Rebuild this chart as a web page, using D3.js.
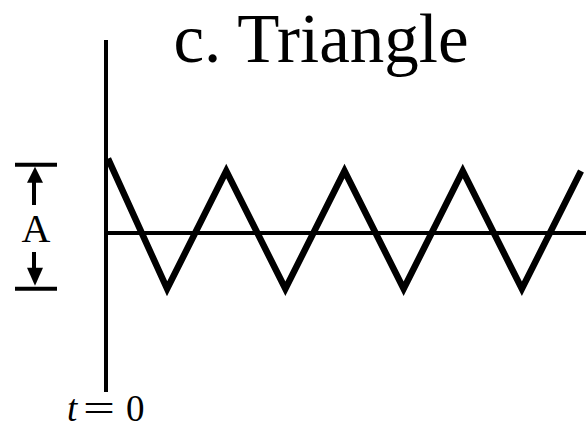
<!DOCTYPE html>
<html>
<head>
<meta charset="utf-8">
<script src="https://cdn.jsdelivr.net/npm/d3@7"></script>
<style>
  html, body { margin: 0; padding: 0; background: #fff; }
  svg { display: block; }
  text { font-family: "Liberation Serif", "Times New Roman", serif; fill: #000; }
</style>
</head>
<body>
<svg id="chart" width="586" height="431"></svg>
<script>
// --- DATA ---
// time in half-periods, value relative to the zero line
const tValues = [0, 1, 2, 3, 4, 5, 6, 7, 8];
const waveValues = [1.2, -0.9, 1, -0.9, 1, -0.9, 1, -0.9, 1];
// amplitude marker levels
const ampLevels = [1.1, -0.9];
const titleText = "c. Triangle";
const ampLabel = "A";

const svg = d3.select("#chart");

// --- SCALES ---
const x = d3.scaleLinear().domain([0, 8]).range([108, 581]);
const y = d3.scaleLinear().domain([-1, 1]).range([295, 171]);

const data = tValues.map((t, i) => ({ t, v: waveValues[i] }));

// title
svg.append("text")
    .attr("x", 321)
    .attr("y", 62)
    .attr("text-anchor", "middle")
    .style("font-size", "69px")
    .text(titleText);

// vertical axis (t = 0)
svg.append("line")
    .attr("x1", x(0) - 2).attr("x2", x(0) - 2)
    .attr("y1", 40).attr("y2", 392)
    .attr("stroke", "#000").attr("stroke-width", 4);

// zero line
svg.append("line")
    .attr("x1", x(0) - 2).attr("x2", 586)
    .attr("y1", y(0)).attr("y2", y(0))
    .attr("stroke", "#000").attr("stroke-width", 4);

// triangle wave
const line = d3.line()
    .x(d => x(d.t))
    .y(d => y(d.v));

svg.append("path")
    .datum(data)
    .attr("d", line)
    .attr("fill", "none")
    .attr("stroke", "#000")
    .attr("stroke-width", 6.5)
    .attr("stroke-linejoin", "miter");

// amplitude marker on the left
const amp = svg.append("g");
const yTop = y(ampLevels[0]);
const yBot = y(ampLevels[1]);

amp.selectAll("line.bar")
    .data([yTop, yBot])
    .join("line")
    .attr("class", "bar")
    .attr("x1", 15).attr("x2", 57)
    .attr("y1", d => d).attr("y2", d => d)
    .attr("stroke", "#000").attr("stroke-width", 4);

// stems
amp.append("line")
    .attr("x1", 34).attr("x2", 34)
    .attr("y1", yTop + 16).attr("y2", 205)
    .attr("stroke", "#000").attr("stroke-width", 4);
amp.append("line")
    .attr("x1", 34).attr("x2", 34)
    .attr("y1", 252).attr("y2", yBot - 20)
    .attr("stroke", "#000").attr("stroke-width", 4);

// arrow heads
amp.append("path")
    .attr("d", `M35,${yTop + 2} L43,${yTop + 18} L27,${yTop + 18} Z`)
    .attr("fill", "#000");
amp.append("path")
    .attr("d", `M35,${yBot - 3} L43,${yBot - 21} L27,${yBot - 21} Z`)
    .attr("fill", "#000");

amp.append("text")
    .attr("x", 36)
    .attr("y", 242)
    .attr("text-anchor", "middle")
    .style("font-size", "40px")
    .text(ampLabel);

// t = 0 label
const tl = svg.append("text")
    .attr("y", 421)
    .style("font-size", "37px");
tl.append("tspan").attr("x", 67).style("font-style", "italic").text("t");
tl.append("tspan").attr("x", 83).attr("textLength", 32)
    .attr("lengthAdjust", "spacingAndGlyphs").text("=");
tl.append("tspan").attr("x", 126).text("0");
</script>
</body>
</html>
